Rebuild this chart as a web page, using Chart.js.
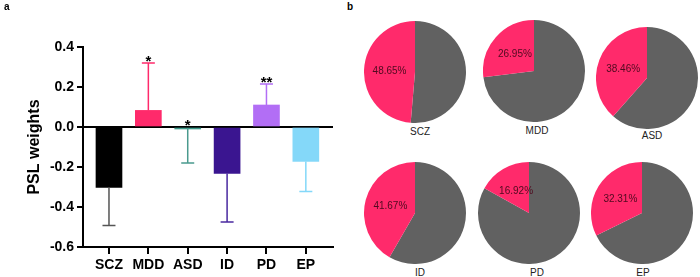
<!DOCTYPE html>
<html>
<head>
<meta charset="utf-8">
<script src="https://cdn.jsdelivr.net/npm/chart.js@4.4.1/dist/chart.umd.min.js"></script>
<style>
  html, body { margin: 0; padding: 0; background: #fff; }
  #wrap { position: relative; width: 700px; height: 277px; overflow: hidden; font-family: 'Liberation Sans', Arial, sans-serif; }
  canvas { position: absolute; }
  .panel { position: absolute; font-weight: bold; font-size: 10px; color: #000; }
  .pie-label { position: absolute; font-size: 10px; color: #222; transform: translate(-50%, -50%); white-space: nowrap; line-height: 10px; }
</style>
</head>
<body>
<div id="wrap">
  <canvas id="barChart" width="345" height="277" style="left:0;top:0"></canvas>
  <div class="panel" style="left:4px;top:1px">a</div>
  <div class="panel" style="left:347px;top:1px">b</div>
</div>
<script>
  'use strict';

  // bar panel (a)
  const groups = ['SCZ', 'MDD', 'ASD', 'ID', 'PD', 'EP'];
  const weights = [-0.302, 0.083, -0.01, -0.232, 0.11, -0.172];
  const errors = [0.19, 0.237, 0.17, 0.243, 0.105, 0.15];
  const stars = ['', '*', '*', '', '**', ''];
  const barColors = ['#000000', '#ff2a6b', '#3f9a8b', '#3a1590', '#b26ef5', '#84d8f9'];
  const errColors = ['#555555', '#ff2a6b', '#4a9a8e', '#4a2aa0', '#b26ef5', '#84d8f9'];
  const yTicks = [-0.6, -0.4, -0.2, 0.0, 0.2, 0.4];

  // pie panel (b)
  const pieNames = ['SCZ', 'MDD', 'ASD', 'ID', 'PD', 'EP'];
  const piePercents = [48.65, 26.95, 38.46, 41.67, 16.92, 32.31];

  Chart.defaults.font.family = "'Liberation Sans', Arial, sans-serif";
  Chart.defaults.color = '#000';

  const errorBars = {
    id: 'errorBars',
    afterDatasetsDraw(chart) {
      const ctx = chart.ctx;
      const y = chart.scales.y;
      const meta = chart.getDatasetMeta(0);
      meta.data.forEach(function (bar, i) {
        const v = weights[i];
        const end = v >= 0 ? v + errors[i] : v - errors[i];
        const yEnd = y.getPixelForValue(end);
        ctx.save();
        ctx.strokeStyle = errColors[i];
        ctx.lineWidth = 1.5;
        ctx.beginPath();
        ctx.moveTo(bar.x, bar.y);
        ctx.lineTo(bar.x, yEnd);
        ctx.moveTo(bar.x - 6.5, yEnd);
        ctx.lineTo(bar.x + 6.5, yEnd);
        ctx.stroke();
        if (stars[i]) {
          const top = Math.max(0, v >= 0 ? end : 0);
          ctx.fillStyle = '#000';
          ctx.font = "bold 15px 'Liberation Sans', Arial, sans-serif";
          ctx.textAlign = 'center';
          ctx.textBaseline = 'alphabetic';
          ctx.fillText(stars[i], bar.x, y.getPixelForValue(top) + 2.5);
        }
        ctx.restore();
      });
    }
  };

  new Chart(document.getElementById('barChart'), {
    type: 'bar',
    data: {
      datasets: [{
        data: weights.map(function (w, i) { return { x: i, y: w }; }),
        backgroundColor: barColors,
        barThickness: 26
      }]
    },
    options: {
      responsive: false,
      animation: false,
      events: [],
      layout: { padding: { top: 47, right: 12, left: 0, bottom: 0 } },
      plugins: { legend: { display: false }, tooltip: { enabled: false } },
      scales: {
        x: {
          type: 'linear',
          position: 'bottom',
          offset: false,
          bounds: 'data',
          min: -0.66,
          max: 5.69,
          afterBuildTicks: function (s) {
            s.ticks = groups.map(function (_, i) { return { value: i }; });
          },
          afterFit: function (s) { s.height = 30; },
          border: { display: true, color: '#000', width: 2 },
          grid: { offset: false, drawOnChartArea: false, drawTicks: true, tickLength: 7, color: '#000', lineWidth: 2 },
          ticks: {
            autoSkip: false,
            maxRotation: 0,
            padding: 3,
            color: '#000',
            font: { size: 14, weight: 'bold' },
            callback: function (v) { return groups[v]; }
          }
        },
        y: {
          min: -0.6,
          max: 0.4,
          afterBuildTicks: function (s) {
            s.ticks = yTicks.map(function (v) { return { value: v }; });
          },
          afterFit: function (s) { s.width = 83; },
          border: { display: true, color: '#000', width: 2 },
          grid: {
            drawOnChartArea: true,
            drawTicks: true,
            tickLength: 6,
            lineWidth: 2,
            tickColor: '#000',
            color: function (c) { return c.tick && Math.abs(c.tick.value) < 1e-9 ? '#000' : 'rgba(0,0,0,0)'; }
          },
          ticks: {
            padding: 3,
            color: '#000',
            font: { size: 14, weight: 'bold' },
            callback: function (v) { return Number(v).toFixed(1); }
          },
          title: {
            display: true,
            text: 'PSL weights',
            color: '#000',
            font: { size: 16, weight: 'bold' },
            padding: { top: 25, bottom: 0 }
          }
        }
      }
    },
    plugins: [errorBars]
  });

  // pies
  const pieLayout = [
    { cx: 415, cy: 71.5, lx: 420, ly: 131.5 },
    { cx: 534, cy: 71, lx: 537, ly: 131 },
    { cx: 647, cy: 77.5, lx: 652, ly: 135.5 },
    { cx: 415, cy: 213.3, lx: 420, ly: 272.5 },
    { cx: 529, cy: 213.3, lx: 537, ly: 272.5 },
    { cx: 642, cy: 213.3, lx: 643, ly: 272.5 }
  ];

  const pieText = {
    id: 'pieText',
    afterDatasetsDraw(chart) {
      const ctx = chart.ctx;
      const arc = chart.getDatasetMeta(0).data[1];
      const pos = arc.tooltipPosition();
      ctx.save();
      ctx.fillStyle = '#4f0a1f';
      ctx.font = "10px 'Liberation Sans', Arial, sans-serif";
      ctx.textAlign = 'center';
      ctx.textBaseline = 'middle';
      ctx.fillText(chart.data.datasets[0].data[1].toFixed(2) + '%', pos.x, pos.y);
      ctx.restore();
    }
  };

  const wrap = document.getElementById('wrap');
  pieNames.forEach(function (name, i) {
    const L = pieLayout[i];
    const cv = document.createElement('canvas');
    cv.width = 102;
    cv.height = 102;
    cv.style.left = (L.cx - 51) + 'px';
    cv.style.top = (L.cy - 51) + 'px';
    wrap.appendChild(cv);

    const lab = document.createElement('div');
    lab.className = 'pie-label';
    lab.style.left = L.lx + 'px';
    lab.style.top = L.ly + 'px';
    lab.textContent = name;
    wrap.appendChild(lab);

    new Chart(cv, {
      type: 'pie',
      data: {
        labels: ['other', name],
        datasets: [{
          data: [100 - piePercents[i], piePercents[i]],
          backgroundColor: ['#616161', '#ff2a6b'],
          borderWidth: 0
        }]
      },
      options: {
        responsive: false,
        animation: false,
        events: [],
        layout: { padding: 0 },
        plugins: { legend: { display: false }, tooltip: { enabled: false } }
      },
      plugins: [pieText]
    });
  });
</script>
</body>
</html>
